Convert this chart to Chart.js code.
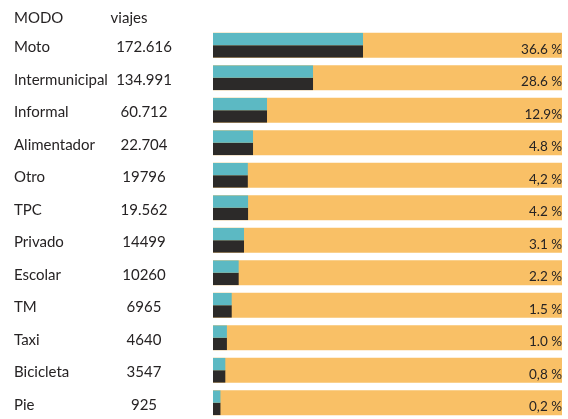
<!DOCTYPE html>
<html>
<head>
<meta charset="utf-8">
<script src="https://cdn.jsdelivr.net/npm/chart.js@4"></script>
<style>
  html, body { margin: 0; padding: 0; background: #fff; }
  #wrap { width: 568px; height: 419px; }
</style>
</head>
<body>
<div id="wrap"><canvas id="modos" width="568" height="419"></canvas></div>
<script>
const modos = ['Moto', 'Intermunicipal', 'Informal', 'Alimentador', 'Otro', 'TPC',
  'Privado', 'Escolar', 'TM', 'Taxi', 'Bicicleta', 'Pie'];
const viajes = ['172.616', '134.991', '60.712', '22.704', '19796', '19.562',
  '14499', '10260', '6965', '4640', '3547', '925'];
const porcentajes = ['36.6 %', '28.6 %', '12.9%', '4.8 %', '4,2 %', '4.2 %',
  '3.1 %', '2.2 %', '1.5 %', '1.0 %', '0,8 %', '0,2 %'];
// bar length as drawn in the picture, share of the full (orange) bar
const largo = [43.0, 28.7, 15.5, 11.5, 10.0, 10.1, 8.9, 7.4, 5.4, 4.0, 3.6, 2.2];
const fondo = [100, 100, 100, 100, 100, 100, 100, 100, 100, 100, 100, 100];

const fuente = 'Lato, "Open Sans", sans-serif';

// columns of text on the left and the percentages inside the bars
const textos = {
  id: 'textos',
  afterDraw(chart) {
    const ctx = chart.ctx;
    const y = chart.scales.y;
    ctx.save();
    ctx.fillStyle = '#262324';
    ctx.textBaseline = 'middle';
    ctx.font = '15px ' + fuente;
    ctx.textAlign = 'left';
    ctx.fillText('MODO', 14, 18);
    ctx.textAlign = 'center';
    ctx.fillText('viajes', 129, 18);
    modos.forEach((m, i) => {
      const py = y.getPixelForValue(i) + 2;
      ctx.font = '15px ' + fuente;
      ctx.textAlign = 'left';
      ctx.fillText(m, 14, py);
      ctx.textAlign = 'center';
      ctx.fillText(viajes[i], 144, py);
      ctx.font = '13.5px ' + fuente;
      ctx.textAlign = 'right';
      ctx.fillText(porcentajes[i], 562, py + 2);
    });
    ctx.restore();
  }
};

// every bar spans the full row; the upper (teal) and lower (dark) halves
// are drawn as a top / bottom border that Chart.js clamps to half the height
new Chart(document.getElementById('modos').getContext('2d'), {
  type: 'bar',
  data: {
    labels: modos,
    datasets: [
      {
        label: 'arriba',
        data: largo,
        backgroundColor: 'rgba(0,0,0,0)',
        borderColor: '#5cb9c3',
        borderWidth: { top: 13, right: 0, bottom: 0, left: 0 },
        order: 1
      },
      {
        label: 'abajo',
        data: largo,
        backgroundColor: 'rgba(0,0,0,0)',
        borderColor: '#2c2a29',
        borderWidth: { top: 0, right: 0, bottom: 13, left: 0 },
        order: 2
      },
      {
        label: 'fondo',
        data: fondo,
        backgroundColor: '#f9c066',
        order: 3
      }
    ]
  },
  options: {
    indexAxis: 'y',
    responsive: false,
    animation: false,
    grouped: false,
    categoryPercentage: 0.77,
    barPercentage: 1,
    inflateAmount: 0,
    layout: { padding: { left: 213, right: 6, top: 29, bottom: 0 } },
    plugins: {
      legend: { display: false },
      tooltip: { enabled: false }
    },
    scales: {
      x: { display: false, min: 0, max: 100 },
      y: { display: false }
    }
  },
  plugins: [textos]
});
</script>
</body>
</html>
